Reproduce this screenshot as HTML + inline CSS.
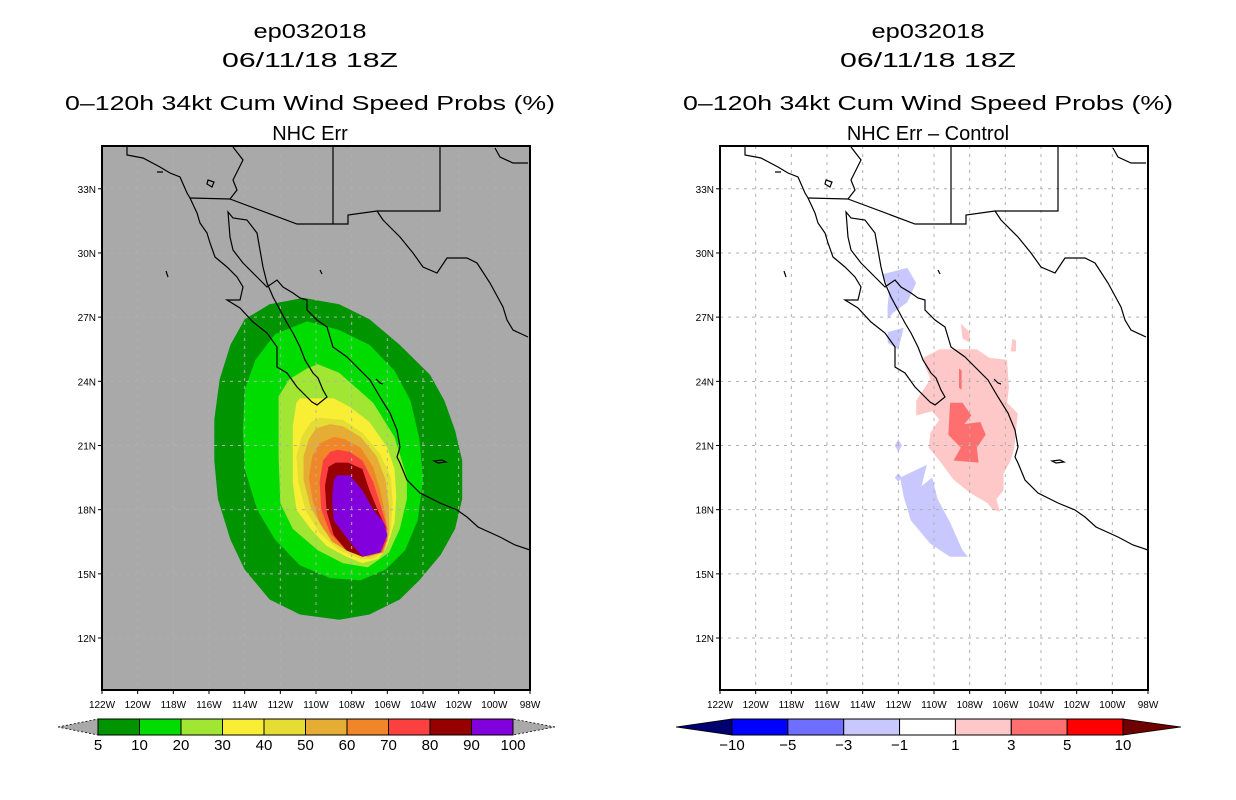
<!DOCTYPE html>
<html><head><meta charset="utf-8"><style>
html,body{margin:0;padding:0;background:#fff;}
svg{display:block;font-family:"Liberation Sans",sans-serif;}
</style></head><body>
<svg id="root" width="1236" height="800" viewBox="0 0 1236 800" xmlns="http://www.w3.org/2000/svg">
<g id="left"></g>
<g id="right"></g>
</svg>
<script>
// ---- data ----
const lonTicks = [-122,-120,-118,-116,-114,-112,-110,-108,-106,-104,-102,-100,-98];
const lonLabels = ["122W","120W","118W","116W","114W","112W","110W","108W","106W","104W","102W","100W","98W"];
const latTicks = [12,15,18,21,24,27,30,33];
const latLabels = ["12N","15N","18N","21N","24N","27N","30N","33N"];
const probLevels = ["5","10","20","30","40","50","60","70","80","90","100"];
const probColors = ["#009400","#00dc00","#a0e632","#f8ef34","#e5dd33","#e5ad33","#f08628","#fc4040","#960000","#8200dc"];
const diffLevels = ["−10","−5","−3","−1","1","3","5","10"];
const diffColors = ["#0000ff","#6f6fff","#c8c8ff","#ffffff","#ffc8c8","#ff6f6f","#ff0000"];
// probability contours (lon,lat pairs)
const c5 = [[-110.7,27.9],[-108.7,27.6],[-107,26.9],[-105.3,25.7],[-103.6,24.3],[-102.8,23.1],[-102.2,21.7],[-101.8,20.3],[-101.8,18.5],[-102.2,17.1],[-103,15.9],[-104.2,14.7],[-105.3,13.8],[-107,13.1],[-108.7,12.85],[-110.9,13.1],[-112.6,13.8],[-114,15.2],[-114.8,16.6],[-115.5,18.5],[-115.7,20.3],[-115.7,22.2],[-115.4,24.1],[-114.8,25.7],[-114,26.9],[-112.6,27.6]];
const c10 = [[-110.5,26.8],[-108.7,26.4],[-107,25.7],[-105.6,24.5],[-104.7,23.1],[-104.2,21.3],[-104,19.4],[-104.3,17.5],[-105,16.1],[-106.1,15.2],[-107.5,14.7],[-109.2,14.8],[-110.9,15.4],[-112.3,16.6],[-113.3,18],[-114,19.9],[-114.1,21.7],[-114,23.6],[-113.4,25],[-112.3,26.2]];
const c20 = [[-109.9,24.8],[-108.7,24.4],[-106.8,23],[-105.6,21.4],[-104.9,19.5],[-104.9,18.5],[-105.3,17.1],[-105.9,16],[-107.1,15.3],[-108.5,15.5],[-109.9,16.1],[-111.3,17.1],[-112,18.3],[-112.1,20.5],[-112.1,23.3],[-111.5,24.1],[-110.5,24.6]];
const c30 = [[-110.9,23.2],[-109,23.2],[-108.1,22.8],[-107,22.1],[-106,20.9],[-105.6,19.9],[-105.5,18.6],[-105.6,17.4],[-106,16.3],[-106.5,15.7],[-107.4,15.5],[-108.3,15.8],[-109.4,16.3],[-110.3,17.1],[-111.1,18],[-111.3,19.3],[-111.3,20.8],[-111.3,21.9],[-111.1,23]];
const c40 = [[-109.8,22.3],[-108.5,22.2],[-107.4,21.6],[-106.4,20.6],[-105.8,19.5],[-105.7,18.3],[-105.8,17.1],[-106.1,16.1],[-106.8,15.7],[-107.5,15.7],[-108.7,16.1],[-109.8,16.9],[-110.6,18],[-111,19.3],[-111.1,20.5],[-110.8,21.4],[-110.3,22.1]];
const c50 = [[-109.2,22],[-108.5,21.9],[-107.5,21.4],[-106.6,20.5],[-106.1,19.4],[-105.9,18.1],[-105.9,16.9],[-106.2,16],[-107,15.8],[-107.7,15.9],[-108.7,16.3],[-109.6,17.1],[-110.3,18.1],[-110.7,19.4],[-110.7,20.5],[-110.4,21.3],[-110,21.8]];
const c60 = [[-109,21.4],[-108.4,21.3],[-107.5,20.9],[-106.8,20],[-106.4,18.9],[-106.1,17.7],[-106,16.7],[-106.4,16],[-107.1,15.8],[-108.1,16],[-109.1,16.5],[-109.8,17.4],[-110.2,18.5],[-110.4,19.5],[-110.2,20.5],[-109.8,21.1]];
const c70 = [[-108.8,20.8],[-108.1,20.7],[-107.4,20.3],[-106.8,19.3],[-106.3,18],[-106,17.1],[-106,16.6],[-106.3,16],[-107.4,15.8],[-108.3,16.1],[-109.2,16.9],[-109.7,18],[-109.8,19.3],[-109.6,20.3],[-109.2,20.7]];
const c80 = [[-108.9,20.2],[-108.2,20.2],[-107.4,19.9],[-107,18.9],[-106.5,17.9],[-106.1,17.2],[-106.1,16.6],[-106.4,16],[-107.4,15.8],[-108.3,16.1],[-109,16.8],[-109.4,17.9],[-109.5,19.1],[-109.3,20]];
const c90 = [[-108.8,19.6],[-108.1,19.6],[-107.4,18.9],[-106.8,18],[-106.2,17.4],[-106,16.8],[-106.4,16],[-107.4,15.8],[-108.2,16.6],[-109,17.5],[-109.1,18.5],[-109,19.4]];
// difference contours
const dBlue1 = [[-112.9,29],[-111.5,29.3],[-111,28.6],[-111.5,27.7],[-112.3,27.2],[-112.6,26.9],[-112.6,27.5],[-112.5,28.3]];
const dBlue2 = [[-112.6,26.3],[-111.7,26.5],[-112,25.5],[-112.6,25.8]];
const dBlue3 = [[-111.9,19.5],[-110.4,20.1],[-110.7,19.1],[-110.1,19.5],[-109.8,18.5],[-109.1,17.4],[-108.4,16.1],[-108.1,15.8],[-109.1,15.8],[-110.2,16.4],[-111.3,17.5],[-111.7,18.6]];
const dBlue4 = [[-112,21.3],[-111.8,21],[-112,20.7],[-112.2,21]];
const dBlue5 = [[-112,19.7],[-111.8,19.5],[-112,19.3],[-112.2,19.5]];
const dPink1 = [[-110.6,25.1],[-109.7,25.5],[-107.6,25.5],[-106.9,25.1],[-105.9,25],[-105.8,23.7],[-105.9,23],[-105.3,22.5],[-105.5,20.9],[-105.7,20.3],[-106.1,19.7],[-106.1,18.9],[-106.5,18.5],[-106.3,17.9],[-106.7,18],[-107,18.3],[-108,18.8],[-108.9,19.4],[-109.7,20.3],[-110.3,20.9],[-110.2,21.6],[-109.7,22.2],[-110.1,22.6],[-111,22.4],[-111,23.1],[-110.2,24.1],[-110.5,24.7]];
const dPink2 = [[-108.5,26.7],[-108,26.3],[-108,25.8],[-108.4,26]];
const dPink3 = [[-105.6,26],[-105.4,25.9],[-105.4,25.4],[-105.7,25.4]];
const dRed1 = [[-109.1,23],[-108.4,23],[-107.9,22.4],[-108.3,22],[-107.4,22.1],[-107.1,21.5],[-107.6,20.9],[-107.5,20.2],[-108.9,20.3],[-108.5,20.9],[-109.2,21.5]];
const dRed2 = [[-108.6,24.6],[-108.45,24.5],[-108.45,23.6],[-108.6,23.7]];

// ---- axes ----
const X0 = 102, X1 = 530, Y0 = 146, Y1 = 690;
const LON0 = -122, LON1 = -98, LAT0 = 9.57, LAT1 = 35;
function xs(lon){ return X0 + (lon-LON0)/(LON1-LON0)*(X1-X0); }
function ys(lat){ return Y1 - (lat-LAT0)/(LAT1-LAT0)*(Y1-Y0); }
function poly(arr){ return arr.map(p=>xs(p[0]).toFixed(1)+","+ys(p[1]).toFixed(1)).join(" "); }

const NS = "http://www.w3.org/2000/svg";
function mk(tag, attrs, parent){ const e=document.createElementNS(NS,tag); for(const k in attrs) e.setAttribute(k,attrs[k]); parent.appendChild(e); return e; }

const coastPaths = [
 "M127,147 L127,155 L143,158 L160,167 L170,173 L180,177 L187,193 L190,198 L197,213 L200,223 L207,233 L210,243 L215,257 L227,267 L237,277 L243,287 L240,300 L227,300 L240,308 L253,322 L267,333 L277,347 L277,367 L287,373 L297,387 L305,395 L312,402 L317,405 L327,397 L323,390 L318,378 L313,373 L305,360 L300,347 L293,333 L287,323 L280,310 L273,297 L267,283 L263,267 L260,250 L257,233 L247,220 L233,218 L228,212 L230,237 L233,250 L243,263 L257,277 L267,287 L277,280 L283,287 L293,293 L300,298 L307,300 L307,310 L317,320 L327,327 L330,337 L333,347 L347,357 L350,360 L360,370 L370,380 L380,397 L390,413 L397,430 L400,447 L397,457 L400,463 L407,480 L420,493 L440,503 L457,510 L467,517 L478,527 L500,537 L515,545 L530,550",
 "M233,147 L243,160 L233,180 L237,190 L230,199 L190,198",
 "M230,199 L297,224 L348,224 L348,215 L377,211 L440,211 L440,147",
 "M333,147 L333,224",
 "M377,211 L383,220 L400,237 L413,253 L423,267 L437,273 L447,258 L467,258 L477,263 L490,283 L503,307 L507,320 L513,330 L528,337",
 "M495,148 L500,157 L513,163 L528,163",
 "M208,180 l6,2 l-2,5 l-5,-3z M166,271 l2,6 M434,461 l8,-1 l4,2 l-8,1z M157,172 l6,0 M376,379 l4,4 l3,1 M320,270 l2,4"
];

function drawPanel(g, bg, titleLine4, cx, dx){
  g.setAttribute('transform','translate('+dx+',0)');
  const titles=[["ep032018",38,254-102,113],["06/11/18 18Z",67,221-102,176],["0–120h 34kt Cum Wind Speed Probs (%)",110,63-102,490],[titleLine4,140,0,0]];
  titles.forEach((t,i)=>{
    const e=mk('text',{x:208+102, y:t[1], 'text-anchor':'middle','font-size':20,fill:'#000'},g);
    if(t[3]>0){ e.setAttribute('textLength',t[3]); e.setAttribute('lengthAdjust','spacingAndGlyphs'); }
    e.textContent=t[0];
    
    
  });
  const r=mk('rect',{x:X0,y:Y0,width:X1-X0,height:Y1-Y0,fill:bg},g);
  
  
  const fills=mk('g',{},g);
  
  
  const grid=mk('g',{stroke:'#b0b0b0','stroke-width':1,'stroke-dasharray':'3,5'},g);
  
  
  lonTicks.slice(1,-1).forEach(l=>{ mk('line',{x1:xs(l),x2:xs(l),y1:Y0,y2:Y1},grid); });
  latTicks.forEach(l=>{ mk('line',{x1:X0,x2:X1,y1:ys(l),y2:ys(l)},grid); });
  const coast=mk('g',{fill:'none',stroke:'#000','stroke-width':1.2},g);
  
  
  coastPaths.forEach(d=>mk('path',{d:d},coast));
  const fr=mk('rect',{x:X0,y:Y0,width:X1-X0,height:Y1-Y0,fill:'none',stroke:'#000','stroke-width':2},g);
  
  
  lonTicks.forEach((l,i)=>{
    mk('line',{x1:xs(l),x2:xs(l),y1:Y1,y2:Y1+4,stroke:'#000'},g);
    const t=mk('text',{x:xs(l),y:708,'text-anchor':'middle','font-size':10,fill:'#000'},g);
    t.textContent=lonLabels[i];
    
    
  });
  latTicks.forEach((l,i)=>{
    mk('line',{x1:X0-4,x2:X0,y1:ys(l),y2:ys(l),stroke:'#000'},g);
    const t=mk('text',{x:X0-6,y:ys(l)+4,'text-anchor':'end','font-size':10,fill:'#000'},g);
    t.textContent=latLabels[i];
    
    
  });
  return fills;
}

const L=document.getElementById('left'), R=document.getElementById('right');
const lf=drawPanel(L,'#a9a9a9','NHC Err',0,0);
[c5,c10,c20,c30,c40,c50,c60,c70,c80,c90].forEach((c,i)=>{
  const p=mk('polygon',{points:poly(c),fill:probColors[i]},lf);
  
  
});
const rf=drawPanel(R,'#ffffff','NHC Err – Control',0,618);
[[dBlue1,2],[dBlue2,2],[dBlue3,2],[dBlue4,2],[dBlue5,2],[dPink1,4],[dPink2,4],[dPink3,4],[dRed1,5],[dRed2,5]].forEach((c,i)=>{
  const p=mk('polygon',{points:poly(c[0]),fill:diffColors[c[1]]},rf);
  
  
});

// ---- colorbars ----
function colorbar(parent, x0, x1, tl, tr, colors, labels, lc, rc){
  const g=mk('g',{},parent);
  
  
  const y0=719,y1=735,ym=727,w=(x1-x0)/colors.length;
  mk('polygon',{points:tl+','+ym+' '+x0+','+y0+' '+x0+','+y1,fill:lc,stroke:'#000','stroke-width':0.8,'stroke-dasharray':lc==='#a9a9a9'?'2,2':'none'},g);
  mk('polygon',{points:tr+','+ym+' '+x1+','+y0+' '+x1+','+y1,fill:rc,stroke:'#000','stroke-width':0.8,'stroke-dasharray':rc==='#a9a9a9'?'2,2':'none'},g);
  colors.forEach((c,i)=>{
    const r=mk('rect',{x:x0+i*w,y:y0,width:w,height:y1-y0,fill:c,stroke:'#000','stroke-width':1},g);
    
    
  });
  labels.forEach((l,i)=>{
    const t=mk('text',{x:x0+i*w,y:750,'text-anchor':'middle','font-size':15,fill:'#000'},g);
    t.textContent=l;
    
    
  });
}
const root=document.getElementById('root');
colorbar(root,98,513,58,555,probColors,probLevels,'#a9a9a9','#a9a9a9');
colorbar(root,732,1123,676,1181,diffColors,diffLevels,'#00006e','#6e0000');
</script>
</body></html>
